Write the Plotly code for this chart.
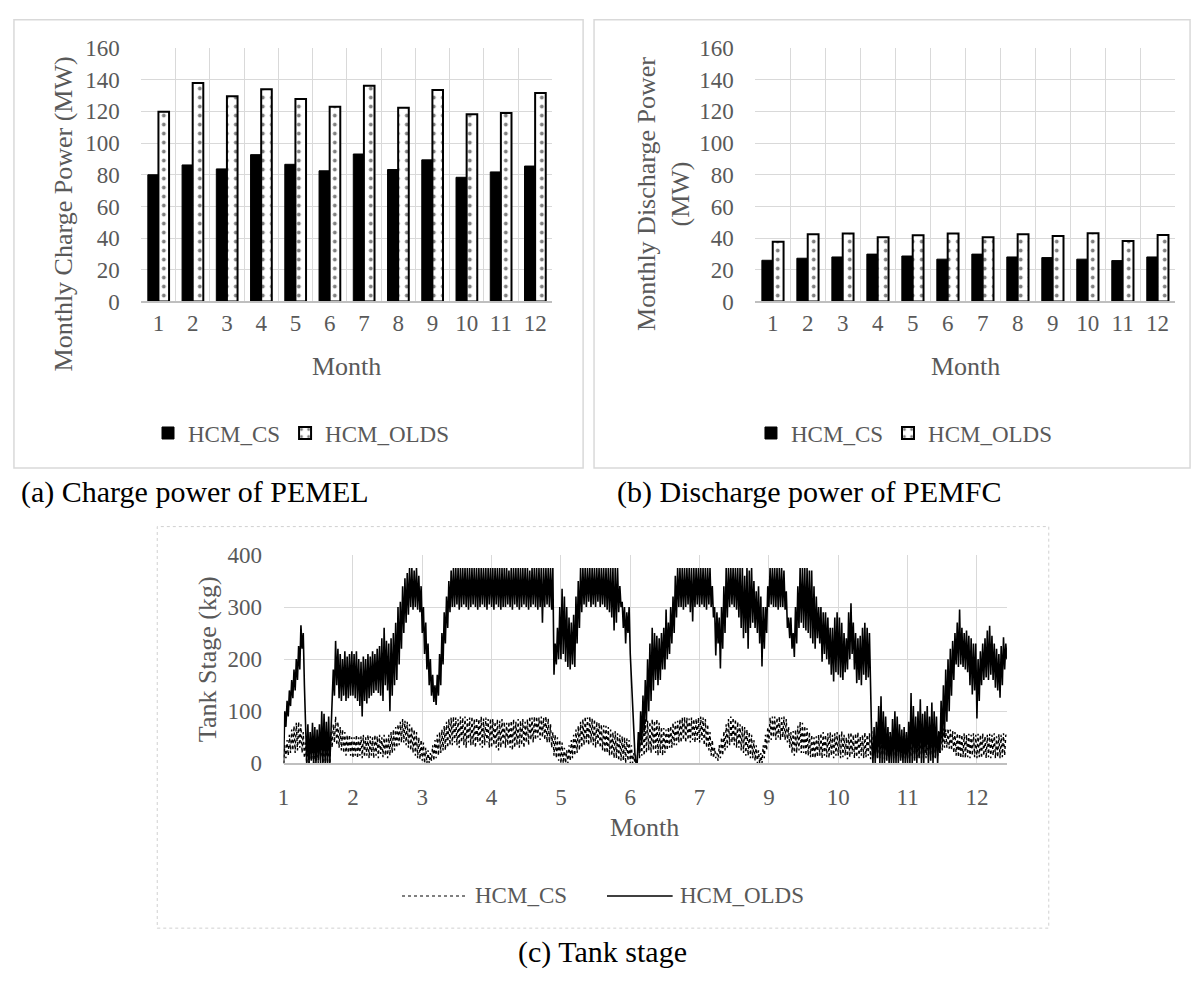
import numpy as np
import plotly.graph_objects as go

W, H = 1199, 985
FONT = "Liberation Serif"
TEXT_GRAY = "#595959"
GRID = "#d9d9d9"

# ---- monthly power of the hydrogen chain (MW) ----
months = [str(m) for m in range(1, 13)]
charge_cs = [80, 86.2, 83.7, 92.7, 86.6, 82.5, 93.1, 83.3, 89.4, 78.4, 81.8, 85.5]
charge_olds = [119.8, 138, 129.6, 134, 127.8, 123, 136.2, 122.3, 133.5, 118.2, 119, 131.7]
discharge_cs = [26, 27.3, 28.1, 29.9, 28.7, 26.7, 29.9, 28.1, 27.7, 26.7, 25.8, 28.1]
discharge_olds = [37.7, 42.5, 42.9, 40.6, 41.8, 42.9, 40.6, 42.5, 41.4, 43.1, 38.2, 42]

# ---- hydrogen tank level (kg), 60 samples between consecutive axis labels ----
tank_tick_labels = ["1", "2", "3", "4", "5", "6", "7", "9", "10", "11", "12"]
samples_per_tick = 60

tank_cs_kg = [
    0, 35, 10, 45, 15, 55, 20, 65, 25, 72, 20, 78, 25, 80, 30, 75, 20, 60, 10, 40,
    0, 30, 0, 35, 5, 40, 0, 30, 5, 45, 0, 35, 10, 40, 0, 45, 5, 35, 0, 40,
    0, 60, 30, 75, 40, 90, 35, 80, 30, 70, 25, 65, 20, 60, 15, 55, 20, 55, 15, 50,
    10, 50, 15, 55, 10, 50, 15, 52, 10, 55, 12, 50, 15, 55, 10, 52, 15, 50, 10, 55,
    15, 52, 10, 55, 18, 50, 12, 55, 15, 50, 10, 55, 15, 60, 20, 65, 25, 70, 30, 75,
    35, 80, 40, 85, 40, 82, 35, 80, 30, 75, 25, 70, 20, 65, 15, 60, 10, 50, 8, 45,
    5, 40, 0, 30, 0, 25, 0, 20, 5, 35, 5, 45, 10, 55, 15, 60, 20, 65, 25, 72,
    25, 80, 30, 85, 35, 88, 35, 90, 40, 88, 35, 85, 30, 90, 40, 88, 35, 90, 30, 85,
    40, 88, 35, 90, 35, 85, 30, 88, 40, 85, 35, 90, 30, 86, 35, 88, 40, 85, 30, 86,
    30, 85, 35, 80, 30, 85, 25, 82, 30, 85, 35, 80, 30, 78, 35, 80, 30, 82, 25, 85,
    30, 80, 35, 85, 30, 82, 35, 85, 30, 80, 40, 85, 35, 90, 45, 88, 40, 90, 45, 90,
    50, 88, 45, 90, 50, 88, 45, 90, 40, 86, 40, 75, 30, 60, 15, 55, 10, 50, 5, 45,
    0, 40, 0, 30, 0, 25, 0, 35, 5, 45, 10, 55, 15, 65, 20, 72, 25, 80, 30, 85,
    35, 90, 40, 88, 35, 90, 40, 86, 35, 85, 30, 80, 35, 78, 30, 75, 25, 73, 20, 72,
    20, 70, 15, 65, 15, 60, 10, 62, 10, 58, 5, 55, 5, 52, 5, 50, 0, 48, 5, 45,
    0, 35, 0, 20, 0, 0, 5, 45, 10, 60, 15, 75, 15, 86, 20, 82, 25, 80, 20, 85,
    25, 82, 20, 85, 15, 78, 20, 70, 15, 68, 20, 65, 25, 70, 30, 72, 30, 78, 35, 80,
    35, 82, 40, 85, 40, 88, 45, 89, 40, 88, 45, 86, 40, 88, 45, 85, 40, 86, 45, 88,
    40, 90, 45, 88, 35, 85, 30, 75, 25, 60, 15, 45, 10, 30, 10, 20, 5, 35, 10, 50,
    15, 62, 25, 75, 30, 85, 35, 90, 40, 88, 35, 85, 30, 80, 30, 75, 25, 72, 20, 70,
    15, 65, 15, 60, 10, 55, 10, 45, 5, 35, 0, 25, 0, 20, 0, 35, 10, 55, 25, 70,
    40, 88, 45, 90, 50, 90, 45, 88, 50, 90, 45, 88, 50, 90, 45, 85, 40, 70, 30, 60,
    20, 62, 15, 65, 20, 72, 25, 80, 20, 78, 20, 72, 15, 68, 15, 60, 12, 55, 10, 50,
    10, 52, 12, 55, 15, 58, 10, 60, 15, 55, 12, 58, 10, 60, 15, 55, 10, 58, 15, 60,
    15, 55, 10, 62, 12, 55, 15, 50, 8, 58, 12, 60, 18, 55, 10, 58, 12, 60, 10, 52,
    15, 55, 10, 60, 12, 55, 15, 58, 8, 62, 10, 55, 15, 50, 12, 58, 10, 60, 15, 55,
    8, 58, 12, 52, 10, 60, 15, 55, 10, 58, 12, 62, 15, 55, 8, 52, 12, 58, 10, 55,
    10, 55, 12, 58, 15, 52, 10, 58, 8, 55, 12, 60, 10, 55, 15, 58, 10, 52, 12, 60,
    15, 58, 10, 55, 12, 60, 15, 62, 20, 65, 25, 67, 30, 65, 30, 67, 28, 65, 25, 62,
    20, 60, 15, 58, 12, 57, 10, 55, 12, 58, 10, 55, 12, 57, 10, 55, 15, 58, 12, 55,
    10, 57, 12, 55, 10, 58, 15, 52, 10, 55, 12, 57, 10, 55, 15, 58, 10, 52, 12, 56,
    10, 55, 12, 58, 15, 55, 50,
]

tank_olds_kg = [
    0, 100, 70, 120, 90, 140, 110, 160, 125, 180, 140, 200, 160, 225, 180, 265, 220, 250, 150, 60,
    0, 75, 0, 60, 5, 78, 0, 70, 0, 65, 5, 75, 0, 100, 0, 95, 0, 80, 0, 90,
    0, 60, 120, 180, 130, 235, 150, 220, 125, 210, 120, 200, 130, 215, 120, 205, 125, 210, 130, 215,
    130, 210, 125, 215, 120, 200, 110, 195, 90, 205, 120, 200, 115, 210, 125, 205, 130, 215, 135, 210,
    140, 220, 135, 225, 130, 240, 120, 260, 150, 235, 140, 230, 100, 240, 130, 250, 150, 270, 160, 300,
    190, 310, 220, 340, 250, 355, 270, 365, 285, 375, 300, 375, 295, 370, 300, 375, 295, 360, 290, 340,
    250, 300, 210, 270, 180, 230, 150, 200, 130, 170, 118, 150, 112, 170, 130, 210, 150, 250, 190, 290,
    230, 320, 260, 350, 290, 370, 300, 375, 300, 375, 305, 375, 295, 375, 300, 375, 305, 375, 300, 375,
    295, 375, 300, 375, 305, 375, 300, 375, 295, 375, 300, 375, 305, 375, 300, 375, 295, 375, 305, 375,
    300, 375, 295, 375, 305, 375, 300, 375, 295, 375, 300, 375, 300, 375, 305, 370, 300, 375, 295, 375,
    305, 375, 300, 375, 295, 375, 300, 375, 305, 375, 300, 375, 295, 370, 300, 375, 305, 375, 300, 375,
    295, 375, 300, 375, 270, 375, 300, 375, 305, 375, 300, 375, 295, 375, 170, 230, 190, 260, 200, 300,
    200, 335, 210, 320, 195, 300, 185, 280, 180, 270, 190, 285, 185, 320, 230, 350, 260, 375, 290, 375,
    305, 375, 300, 375, 310, 375, 300, 375, 305, 375, 300, 375, 310, 375, 300, 375, 305, 375, 300, 375,
    295, 375, 290, 375, 280, 375, 255, 375, 270, 375, 290, 340, 300, 310, 260, 300, 230, 290, 250, 300,
    210, 160, 120, 60, 20, 0, 0, 60, 20, 100, 40, 130, 60, 160, 80, 200, 100, 230, 120, 260,
    140, 250, 160, 245, 150, 240, 160, 250, 180, 260, 180, 295, 200, 270, 210, 300, 230, 320, 250, 360,
    280, 375, 300, 375, 300, 375, 295, 375, 300, 375, 305, 375, 290, 375, 272, 375, 300, 375, 305, 375,
    300, 375, 305, 375, 300, 375, 295, 375, 305, 375, 300, 340, 280, 300, 207, 290, 230, 280, 182, 300,
    220, 340, 250, 375, 280, 375, 300, 375, 305, 375, 300, 375, 295, 375, 280, 375, 260, 375, 240, 360,
    250, 375, 220, 370, 260, 375, 270, 350, 260, 330, 250, 340, 230, 320, 186, 300, 220, 300, 250, 340,
    300, 375, 305, 375, 300, 375, 300, 375, 295, 375, 300, 375, 300, 370, 295, 330, 260, 280, 240, 280,
    220, 250, 204, 300, 230, 340, 260, 375, 270, 375, 260, 375, 255, 375, 250, 370, 240, 370, 230, 340,
    220, 320, 240, 300, 230, 300, 195, 290, 210, 290, 200, 280, 190, 260, 170, 260, 157, 280, 175, 290,
    170, 280, 165, 270, 160, 250, 175, 240, 180, 290, 200, 307, 210, 270, 180, 250, 154, 240, 160, 245,
    150, 260, 170, 270, 160, 260, 165, 250, 120, 40, 0, 70, 0, 80, 10, 110, 0, 129, 0, 100,
    0, 90, 5, 70, 0, 60, 0, 85, 0, 100, 0, 90, 0, 75, 5, 65, 0, 70, 0, 60,
    0, 80, 0, 135, 0, 110, 5, 90, 0, 100, 10, 123, 0, 95, 0, 100, 20, 110, 0, 90,
    5, 117, 0, 100, 10, 90, 0, 60, 20, 120, 40, 150, 50, 180, 80, 200, 100, 220, 130, 235,
    160, 250, 190, 270, 185, 295, 190, 260, 185, 250, 180, 255, 175, 245, 150, 240, 132, 230, 140, 230,
    86, 200, 120, 215, 150, 230, 160, 240, 165, 255, 160, 264, 170, 245, 160, 230, 145, 220, 140, 210,
    126, 225, 150, 242, 180, 230, 200,
]


def fx(px):
    return px / W


def fy(py):
    return 1 - py / H


tank_x_cs = np.arange(len(tank_cs_kg)) / samples_per_tick
tank_x_olds = np.arange(len(tank_olds_kg)) / samples_per_tick
tank_x_end = (len(tank_olds_kg) - 1) / samples_per_tick

pattern_olds = dict(shape=".", fgcolor="black", bgcolor="white", size=9, solidity=0.14)
cs_dot_line = dict(color="black", width=1.4, dash="dot")
olds_line = dict(color="black", width=1.6)

fig = go.Figure()

# (a) charge power
fig.add_trace(go.Bar(x=months, y=charge_cs, name="HCM_CS", xaxis="x", yaxis="y",
                     marker=dict(color="black", line=dict(color="black", width=1)),
                     legend="legend"))
fig.add_trace(go.Bar(x=months, y=charge_olds, name="HCM_OLDS", xaxis="x", yaxis="y",
                     marker=dict(color="white", line=dict(color="black", width=2), pattern=pattern_olds),
                     legend="legend"))

# (b) discharge power
fig.add_trace(go.Bar(x=months, y=discharge_cs, name="HCM_CS", xaxis="x2", yaxis="y2",
                     marker=dict(color="black", line=dict(color="black", width=1)),
                     legend="legend2"))
fig.add_trace(go.Bar(x=months, y=discharge_olds, name="HCM_OLDS", xaxis="x2", yaxis="y2",
                     marker=dict(color="white", line=dict(color="black", width=2), pattern=pattern_olds),
                     legend="legend2"))

# (c) tank level (its key is drawn by hand below, with longer line samples)
fig.add_trace(go.Scatter(x=tank_x_cs, y=tank_cs_kg, name="HCM_CS", mode="lines", xaxis="x3", yaxis="y3",
                         line=cs_dot_line, showlegend=False))
fig.add_trace(go.Scatter(x=tank_x_olds, y=tank_olds_kg, name="HCM_OLDS", mode="lines", xaxis="x3", yaxis="y3",
                         line=olds_line, showlegend=False))

tick_font = dict(family=FONT, size=23, color=TEXT_GRAY)
hidden_tick = dict(ticks="outside", tickcolor="rgba(0,0,0,0)")

cat_axis = dict(type="category", tickson="boundaries", showgrid=True, gridcolor=GRID, gridwidth=1.3,
                showline=True, linecolor="#bfbfbf", linewidth=1.5, ticklen=12, tickfont=tick_font,
                **hidden_tick)
val_axis = dict(range=[0, 160], dtick=20, showgrid=True, gridcolor=GRID, gridwidth=1.3, zeroline=False,
                ticklen=16, tickfont=tick_font, **hidden_tick)

legend_font = dict(family=FONT, size=23, color=TEXT_GRAY)

fig.update_layout(
    width=W, height=H,
    margin=dict(l=0, r=0, t=0, b=0),
    paper_bgcolor="white", plot_bgcolor="white",
    barmode="group", bargap=0.38, bargroupgap=0,
    font=dict(family=FONT, color=TEXT_GRAY),
    xaxis=dict(domain=[fx(136), fx(549)], anchor="y", **cat_axis),
    yaxis=dict(domain=[fy(297), fy(37)], anchor="x", **val_axis),
    xaxis2=dict(domain=[fx(753), fx(1175)], anchor="y2", **cat_axis),
    yaxis2=dict(domain=[fy(297), fy(37)], anchor="x2", **val_axis),
    xaxis3=dict(domain=[fx(279), fx(1006)], anchor="y3", range=[0, tank_x_end],
                tickmode="array", tickvals=list(range(len(tank_tick_labels))), ticktext=tank_tick_labels,
                showgrid=True, gridcolor=GRID, gridwidth=1.3, zeroline=False,
                showline=True, linecolor="#bfbfbf", linewidth=1.5, ticklen=12, tickfont=tick_font,
                **hidden_tick),
    yaxis3=dict(domain=[fy(771), fy(557)], anchor="x3", range=[0, 400], dtick=100,
                showgrid=True, gridcolor=GRID, gridwidth=1.3, zeroline=False,
                ticklen=16, tickfont=tick_font, **hidden_tick),
    legend=dict(orientation="h", x=fx(297), y=fy(432), xanchor="center", yanchor="middle",
                font=legend_font, itemwidth=30, bgcolor="rgba(0,0,0,0)"),
    legend2=dict(orientation="h", x=fx(903), y=fy(432), xanchor="center", yanchor="middle",
                 font=legend_font, itemwidth=30, bgcolor="rgba(0,0,0,0)"),
    showlegend=True,
)

# panel frames
fig.add_shape(type="rect", xref="paper", yref="paper", x0=fx(8), x1=fx(580), y0=fy(468), y1=fy(8),
              line=dict(color="#d9d9d9", width=1.5), layer="below")
fig.add_shape(type="rect", xref="paper", yref="paper", x0=fx(591), x1=fx(1190), y0=fy(468), y1=fy(8),
              line=dict(color="#d9d9d9", width=1.5), layer="below")
fig.add_shape(type="rect", xref="paper", yref="paper", x0=fx(152), x1=fx(1048), y0=fy(940), y1=fy(528),
              line=dict(color="#d0d0d0", width=1, dash="dot"), layer="below")

# key of the tank-level panel
fig.add_shape(type="line", xref="paper", yref="paper", x0=fx(398), x1=fx(464), y0=fy(907), y1=fy(907),
              line=dict(color="black", width=1.2, dash="dot"))
fig.add_shape(type="line", xref="paper", yref="paper", x0=fx(604), x1=fx(670), y0=fy(907), y1=fy(907),
              line=dict(color="black", width=1.5))

title_font = dict(family=FONT, size=26, color=TEXT_GRAY)
caption_font = dict(family=FONT, size=30, color="black")


def note(text, x, y, font, angle=0, anchor="center"):
    fig.add_annotation(text=text, xref="paper", yref="paper", x=fx(x), y=fy(y),
                       xanchor=anchor, yanchor="middle", showarrow=False, textangle=angle, font=font)


note("HCM_CS", 469, 907, legend_font, anchor="left")
note("HCM_OLDS", 675, 907, legend_font, anchor="left")
note("Monthly Charge Power (MW)", 58, 207, title_font, -90)
note("Monthly Discharge Power<br>(MW)", 661, 187, title_font, -90)
note("Tank Stage (kg)", 202, 664, title_font, -90)
note("Month", 342, 364, title_font)
note("Month", 964, 364, title_font)
note("Month", 642, 837, title_font)
note("(a) Charge power of PEMEL", 190, 492, caption_font)
note("(b) Discharge power of PEMFC", 807, 492, caption_font)
note("(c) Tank stage", 600, 964, caption_font)

fig.write_html("out.html")
